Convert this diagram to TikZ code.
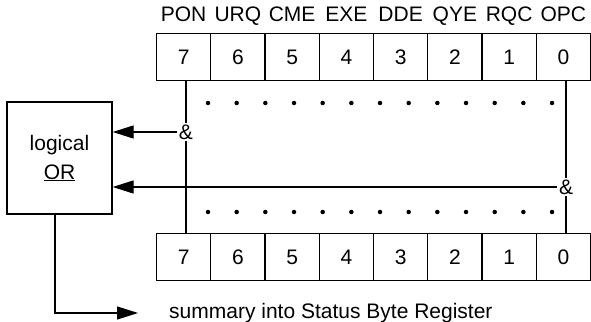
\documentclass[tikz,border=0pt]{standalone}
\usepackage{fontspec}
\setmainfont{Liberation Sans}
\usetikzlibrary{arrows.meta,calc}
\begin{document}
\begin{tikzpicture}[x=1pt,y=1pt,
  every node/.style={font=\fontsize{21}{24}\selectfont},
  cell/.style={draw,line width=1.3pt,minimum width=54.25pt,minimum height=47.5pt,inner sep=0pt,outer sep=0pt},
  lbl/.style={anchor=base,inner sep=0pt},
  amp/.style={inner sep=1.5pt},
  conn/.style={line width=1.3pt},
  arr/.style={conn,-{Triangle[length=21pt,width=13pt]}},
  dot/.style={fill,circle,inner sep=0pt,minimum size=4.5pt}]
\useasboundingbox (0,0) rectangle (591,321);
% registers
\foreach \k/\b/\n in {0/7/PON,1/6/URQ,2/5/CME,3/4/EXE,4/3/DDE,5/2/QYE,6/1/RQC,7/0/OPC}{
  \node[cell] (t\b) at ({156.5+27.125+54.25*\k},264) {\b};
  \node[cell] (b\b) at ({156.5+27.125+54.25*\k},64) {\b};
  \node[lbl] (l\b) at ({156.5+27.125+54.25*\k},299) {\n};
}
% dots
\foreach \i in {0,...,12}{
  \node[dot] (dt\i) at ({208+28.67*\i},218) {};
  \node[dot] (db\i) at ({208+28.67*\i},109) {};
}
% logical OR box
\node[draw,line width=1.3pt,minimum width=105pt,minimum height=112pt,align=center,
  font=\fontsize{21}{29}\selectfont] (or) at (59.5,163) {logical\\\underline{OR}};
% ampersands
\node[amp] (amp1) at (186,189) {\&};
\node[amp] (amp2) at (566,134) {\&};
\draw[conn] (amp1) -- (amp1 |- t7.south);
\draw[conn] (amp1) -- (amp1 |- b7.north);
\draw[arr] (amp1) -- (amp1 -| or.east);
\draw[conn] (amp2) -- (amp2 |- t0.south);
\draw[conn] (amp2) -- (amp2 |- b0.north);
\draw[arr] (amp2.west) -- (amp2.west -| or.east);
% summary
\coordinate (sumtip) at (138,8);
\draw[arr] ([xshift=-4.5pt]or.south) |- (sumtip);
\node[anchor=base west,inner sep=0pt,font=\fontsize{21}{24}\selectfont] (sum) at (169,3) {summary into Status Byte Register};
\end{tikzpicture}
\end{document}
